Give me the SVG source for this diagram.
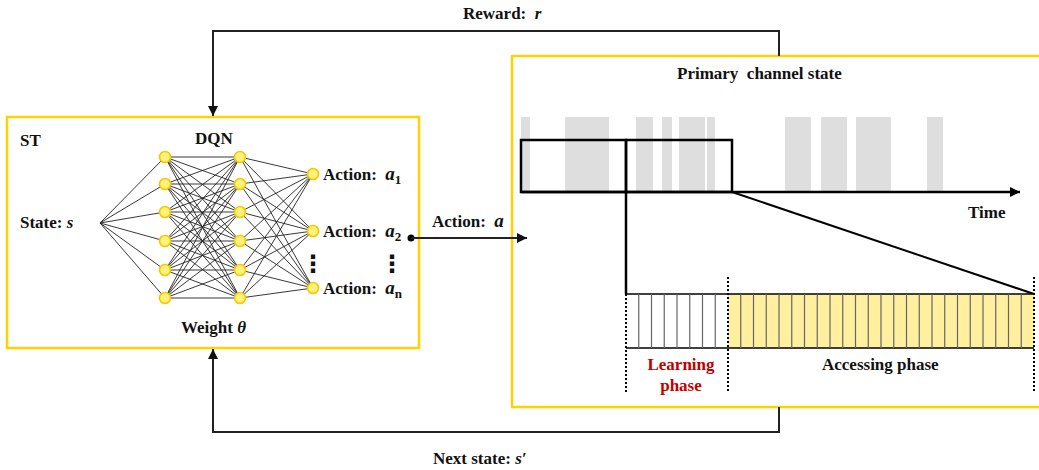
<svg xmlns="http://www.w3.org/2000/svg" width="1039" height="470" viewBox="0 0 1039 470">
<style>
text{font-family:"Liberation Serif","Times New Roman",serif;font-weight:bold;font-size:17px;fill:#111;white-space:pre}
.it{font-style:italic}
.va{font-style:italic;font-size:19px}
.sub{font-size:13px;font-style:normal}
.box{fill:none;stroke:#FFD200;stroke-width:2.5}
.node{fill:#FFF27A;stroke:#F5C800;stroke-width:1.6}
.nn{stroke:#222;stroke-width:0.9;fill:none}
.conn{stroke:#222;stroke-width:2;fill:none}
.bar{fill:#DEDEDE}
.thick{stroke:#000;stroke-width:2.5;fill:none}
.slot{stroke:#666;stroke-width:1.2}
.dot{stroke:#000;stroke-width:2;stroke-dasharray:2 2}
.ell{font-family:"DejaVu Sans",sans-serif;font-size:24px;font-weight:bold}
</style>
<defs>
<marker id="ah" viewBox="0 0 10 10" refX="10" refY="5" markerWidth="5" markerHeight="5" orient="auto" markerUnits="strokeWidth">
<path d="M0,0 L10,5 L0,10 z" fill="#111"/>
</marker>
<marker id="ah2" viewBox="0 0 10 10" refX="10" refY="5" markerWidth="4.5" markerHeight="4" orient="auto" markerUnits="strokeWidth">
<path d="M0,0 L10,5 L0,10 z" fill="#000"/>
</marker>
</defs>

<g id="st-box">
<rect class="box" x="7" y="117" width="412" height="231"/>
<text x="20" y="146">ST</text>
<text x="195" y="144">DQN</text>
<text x="20" y="228">State: <tspan class="it">s</tspan></text>
<text x="181" y="333">Weight <tspan class="it">θ</tspan></text>
</g>

<g id="nn-edges" class="nn">
<path d="M100,223 L165,157 M100,223 L165,184 M100,223 L165,212 M100,223 L165,241 M100,223 L165,270 M100,223 L165,298"/>
<path d="M165,157 L240,157 M165,157 L240,184 M165,157 L240,212 M165,157 L240,241 M165,157 L240,270 M165,157 L240,298"/>
<path d="M165,184 L240,157 M165,184 L240,184 M165,184 L240,212 M165,184 L240,241 M165,184 L240,270 M165,184 L240,298"/>
<path d="M165,212 L240,157 M165,212 L240,184 M165,212 L240,212 M165,212 L240,241 M165,212 L240,270 M165,212 L240,298"/>
<path d="M165,241 L240,157 M165,241 L240,184 M165,241 L240,212 M165,241 L240,241 M165,241 L240,270 M165,241 L240,298"/>
<path d="M165,270 L240,157 M165,270 L240,184 M165,270 L240,212 M165,270 L240,241 M165,270 L240,270 M165,270 L240,298"/>
<path d="M165,298 L240,157 M165,298 L240,184 M165,298 L240,212 M165,298 L240,241 M165,298 L240,270 M165,298 L240,298"/>
<path d="M240,157 L313,174 M240,157 L313,231 M240,157 L313,288 M240,184 L313,174 M240,184 L313,231 M240,184 L313,288 M240,212 L313,174 M240,212 L313,231 M240,212 L313,288 M240,241 L313,174 M240,241 L313,231 M240,241 L313,288 M240,270 L313,174 M240,270 L313,231 M240,270 L313,288 M240,298 L313,174 M240,298 L313,231 M240,298 L313,288"/>
</g>

<g id="layer1">
<circle class="node" cx="165" cy="157" r="5.5"/>
<circle class="node" cx="165" cy="184" r="5.5"/>
<circle class="node" cx="165" cy="212" r="5.5"/>
<circle class="node" cx="165" cy="241" r="5.5"/>
<circle class="node" cx="165" cy="270" r="5.5"/>
<circle class="node" cx="165" cy="298" r="5.5"/>
</g>
<g id="layer2">
<circle class="node" cx="240" cy="157" r="5.5"/>
<circle class="node" cx="240" cy="184" r="5.5"/>
<circle class="node" cx="240" cy="212" r="5.5"/>
<circle class="node" cx="240" cy="241" r="5.5"/>
<circle class="node" cx="240" cy="270" r="5.5"/>
<circle class="node" cx="240" cy="298" r="5.5"/>
</g>
<g id="outputs">
<circle class="node" cx="313" cy="174" r="5.5"/>
<circle class="node" cx="313" cy="231" r="5.5"/>
<circle class="node" cx="313" cy="288" r="5.5"/>
<text x="323" y="180">Action:  <tspan class="va">a</tspan><tspan class="sub" dy="4">1</tspan></text>
<text x="323" y="237">Action:  <tspan class="va">a</tspan><tspan class="sub" dy="4">2</tspan></text>
<text x="323" y="294">Action:  <tspan class="va">a</tspan><tspan class="sub it" dy="4">n</tspan></text>
<text class="ell" x="313" y="272" text-anchor="middle">⋮</text>
<text class="ell" x="392" y="272" text-anchor="middle">⋮</text>
</g>

<g id="channel-box">
<rect class="box" x="512" y="56" width="540" height="351"/>
<text x="677" y="79">Primary  channel state</text>
<rect class="bar" x="521" y="117" width="9" height="75"/>
<rect class="bar" x="565" y="117" width="44" height="75"/>
<rect class="bar" x="636" y="117" width="17" height="75"/>
<rect class="bar" x="662" y="117" width="10" height="75"/>
<rect class="bar" x="679" y="117" width="26" height="75"/>
<rect class="bar" x="707" y="117" width="8" height="75"/>
<rect class="bar" x="785" y="117" width="26" height="75"/>
<rect class="bar" x="821" y="117" width="26" height="75"/>
<rect class="bar" x="856" y="117" width="35" height="75"/>
<rect class="bar" x="927" y="117" width="16" height="75"/>
<rect class="thick" x="521" y="140" width="105" height="52"/>
<rect class="thick" x="626" y="140" width="106" height="52"/>
<line class="thick" x1="521" y1="192" x2="1020" y2="192" marker-end="url(#ah2)"/>
<text x="968" y="218">Time</text>
<line class="thick" x1="626" y1="192" x2="626" y2="294"/>
<line stroke="#000" stroke-width="2" x1="732" y1="192" x2="1034" y2="294"/>
</g>

<g id="slots">
<rect x="728" y="294" width="306" height="54" fill="#FFF0A0"/>
<line stroke="#000" stroke-width="1.5" x1="626" y1="294" x2="1034" y2="294"/>
<line stroke="#000" stroke-width="1.5" x1="626" y1="348" x2="1034" y2="348"/>
<g class="slot">
<line x1="638.75" y1="294" x2="638.75" y2="348"/>
<line x1="651.5" y1="294" x2="651.5" y2="348"/>
<line x1="664.25" y1="294" x2="664.25" y2="348"/>
<line x1="677" y1="294" x2="677" y2="348"/>
<line x1="689.75" y1="294" x2="689.75" y2="348"/>
<line x1="702.5" y1="294" x2="702.5" y2="348"/>
<line x1="715.25" y1="294" x2="715.25" y2="348"/>
<line x1="740.75" y1="294" x2="740.75" y2="348"/>
<line x1="753.5" y1="294" x2="753.5" y2="348"/>
<line x1="766.25" y1="294" x2="766.25" y2="348"/>
<line x1="779" y1="294" x2="779" y2="348"/>
<line x1="791.75" y1="294" x2="791.75" y2="348"/>
<line x1="804.5" y1="294" x2="804.5" y2="348"/>
<line x1="817.25" y1="294" x2="817.25" y2="348"/>
<line x1="830" y1="294" x2="830" y2="348"/>
<line x1="842.75" y1="294" x2="842.75" y2="348"/>
<line x1="855.5" y1="294" x2="855.5" y2="348"/>
<line x1="868.25" y1="294" x2="868.25" y2="348"/>
<line x1="881" y1="294" x2="881" y2="348"/>
<line x1="893.75" y1="294" x2="893.75" y2="348"/>
<line x1="906.5" y1="294" x2="906.5" y2="348"/>
<line x1="919.25" y1="294" x2="919.25" y2="348"/>
<line x1="932" y1="294" x2="932" y2="348"/>
<line x1="944.75" y1="294" x2="944.75" y2="348"/>
<line x1="957.5" y1="294" x2="957.5" y2="348"/>
<line x1="970.25" y1="294" x2="970.25" y2="348"/>
<line x1="983" y1="294" x2="983" y2="348"/>
<line x1="995.75" y1="294" x2="995.75" y2="348"/>
<line x1="1008.5" y1="294" x2="1008.5" y2="348"/>
<line x1="1021.25" y1="294" x2="1021.25" y2="348"/>
</g>
<line class="dot" x1="626" y1="294" x2="626" y2="393"/>
<line class="dot" x1="728" y1="277" x2="728" y2="393"/>
<line class="dot" x1="1034" y1="277" x2="1034" y2="393"/>
<text x="681" y="370" text-anchor="middle" style="fill:#C00000">Learning</text>
<text x="681" y="391" text-anchor="middle" style="fill:#C00000">phase</text>
<text x="822" y="370">Accessing phase</text>
</g>

<g id="connectors">
<path class="conn" d="M779,56 V31 H213 V116" marker-end="url(#ah)"/>
<path class="conn" d="M779,407 V432 H213 V349" marker-end="url(#ah)"/>
<circle cx="411" cy="238" r="3.5" fill="#000"/>
<line class="conn" x1="411" y1="238" x2="527" y2="238" marker-end="url(#ah)"/>
</g>

<g id="labels">
<text x="463" y="19">Reward:  <tspan class="it">r</tspan></text>
<text x="433" y="464">Next state: <tspan class="it">s′</tspan></text>
<text x="432" y="227">Action:  <tspan class="va">a</tspan></text>
</g>
</svg>
